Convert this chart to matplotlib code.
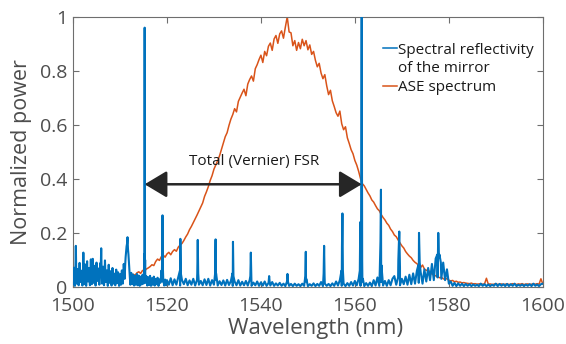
import numpy as np
import matplotlib
matplotlib.use("Agg")
import matplotlib.pyplot as plt
from matplotlib.lines import Line2D

plt.rcParams['font.family'] = ['Open Sans', 'DejaVu Sans']

# ---------------- data ----------------
# Mirror reflectivity: dense noise floor 1500-1520 nm (0.2 nm sampling)
refl_noise_a = [
    0.010, 0.071, 0.004, 0.152, 0.012, 0.066, 0.006, 0.089, 0.018, 0.060,
    0.005, 0.127, 0.010, 0.083, 0.004, 0.095, 0.020, 0.070, 0.006, 0.102,
    0.010, 0.104, 0.015, 0.078, 0.005, 0.090, 0.022, 0.068, 0.008, 0.088,
    0.143, 0.012, 0.075, 0.006, 0.098, 0.018, 0.061, 0.004, 0.082, 0.015,
    0.058, 0.005, 0.070, 0.012, 0.049, 0.006, 0.064, 0.014, 0.054, 0.004,
    0.047, 0.008, 0.061, 0.012, 0.085, 0.030, 0.110, 0.150, 0.184, 0.120,
    0.060, 0.008, 0.052, 0.010, 0.045, 0.005, 0.040, 0.008, 0.048, 0.006,
    0.042, 0.004, 0.038, 0.009, 0.045, 0.012, 0.050, 0.015, 0.040, 0.005,
    0.036, 0.007, 0.041, 0.004, 0.032, 0.008, 0.038, 0.005, 0.030, 0.010,
    0.034, 0.004, 0.028, 0.015, 0.060, 0.020, 0.030, 0.005, 0.027, 0.006,
    0.025,
]
# Mirror reflectivity: interleaved noise samples 1500.1-1519.9 nm
refl_noise_a2 = [
    0.045, 0.030, 0.055, 0.038, 0.060, 0.025, 0.050, 0.042, 0.035, 0.058,
    0.040, 0.052, 0.030, 0.062, 0.045, 0.036, 0.058, 0.028, 0.050, 0.044,
    0.055, 0.032, 0.048, 0.060, 0.038, 0.050, 0.030, 0.056, 0.042, 0.065,
    0.050, 0.035, 0.058, 0.040, 0.045, 0.030, 0.052, 0.038, 0.044, 0.032,
    0.040, 0.028, 0.045, 0.035, 0.030, 0.042, 0.026, 0.038, 0.032, 0.036,
    0.030, 0.040, 0.035, 0.050, 0.060, 0.080, 0.130, 0.160, 0.140, 0.090,
    0.035, 0.028, 0.032, 0.025, 0.030, 0.022, 0.028, 0.030, 0.024, 0.026,
    0.025, 0.022, 0.028, 0.030, 0.026, 0.035, 0.030, 0.025, 0.020, 0.024,
    0.022, 0.026, 0.020, 0.024, 0.018, 0.022, 0.020, 0.016, 0.020, 0.018,
    0.018, 0.016, 0.020, 0.030, 0.035, 0.025, 0.018, 0.016, 0.015, 0.014,
]
# Mirror reflectivity: noise floor 1520.4-1600 nm (0.4 nm sampling)
refl_noise_b = [
    0.008, 0.032, 0.006, 0.028, 0.008, 0.035, 0.005, 0.025, 0.010, 0.030,
    0.006, 0.024, 0.008, 0.030, 0.005, 0.026, 0.008, 0.022, 0.006, 0.028,
    0.007, 0.030, 0.005, 0.025, 0.008, 0.027, 0.005, 0.021, 0.007, 0.024,
    0.005, 0.026, 0.007, 0.022, 0.004, 0.020, 0.006, 0.025, 0.005, 0.019,
    0.006, 0.022, 0.005, 0.025, 0.004, 0.016, 0.006, 0.020, 0.004, 0.017,
    0.005, 0.020, 0.004, 0.014, 0.005, 0.018, 0.004, 0.013, 0.005, 0.015,
    0.004, 0.012, 0.003, 0.014, 0.004, 0.011, 0.003, 0.012, 0.004, 0.010,
    0.003, 0.012, 0.004, 0.020, 0.003, 0.010, 0.004, 0.013, 0.003, 0.011,
    0.004, 0.018, 0.003, 0.012, 0.004, 0.011, 0.003, 0.013, 0.004, 0.020,
    0.005, 0.025, 0.004, 0.012, 0.003, 0.014, 0.004, 0.018, 0.005, 0.022,
    0.006, 0.030, 0.004, 0.020, 0.003, 0.014, 0.004, 0.016, 0.003, 0.025,
    0.005, 0.035, 0.004, 0.018, 0.005, 0.022, 0.004, 0.025, 0.006, 0.030,
    0.040, 0.008, 0.035, 0.006, 0.030, 0.010, 0.038, 0.008, 0.045, 0.010,
    0.050, 0.012, 0.060, 0.015, 0.055, 0.012, 0.065, 0.020, 0.070, 0.025,
    0.085, 0.025, 0.105, 0.035, 0.120, 0.030, 0.090, 0.025, 0.065, 0.012,
    0.020, 0.004, 0.015, 0.003, 0.013, 0.004, 0.012, 0.003, 0.011, 0.004,
    0.010, 0.003, 0.009, 0.004, 0.008, 0.003, 0.012, 0.004, 0.010, 0.003,
    0.009, 0.003, 0.008, 0.004, 0.012, 0.003, 0.011, 0.004, 0.010, 0.003,
    0.011, 0.003, 0.010, 0.004, 0.012, 0.003, 0.008, 0.004, 0.009, 0.003,
    0.009, 0.004, 0.010, 0.003, 0.012, 0.004, 0.009, 0.003, 0.010, 0.012,
]
# Mirror reflectivity comb peaks (with their skirts)
peak_wl = [
    1515.15, 1515.25, 1515.35,
    1518.95, 1519.05, 1519.15,
    1522.75, 1522.85, 1522.95,
    1526.45, 1526.55, 1526.65,
    1530.25, 1530.35, 1530.45,
    1533.95, 1534.05, 1534.15,
    1537.75, 1537.85, 1537.95,
    1541.65, 1541.75, 1541.85,
    1545.55, 1545.65, 1545.75,
    1549.45, 1549.55, 1549.65,
    1553.35, 1553.45, 1553.55,
    1557.15, 1557.25, 1557.35, 1557.45,
    1561.05, 1561.15, 1561.30, 1561.45, 1561.55, 1561.70,
    1565.30, 1565.45, 1565.55, 1565.65,
    1569.25, 1569.45, 1569.60,
    1573.50, 1573.65, 1573.80,
    1577.55, 1577.75, 1577.90, 1578.30,
]
peak_val = [
    0.12, 0.96, 0.10,
    0.08, 0.265, 0.06,
    0.06, 0.178, 0.05,
    0.05, 0.174, 0.05,
    0.05, 0.176, 0.05,
    0.05, 0.167, 0.04,
    0.04, 0.127, 0.04,
    0.02, 0.040, 0.02,
    0.02, 0.048, 0.02,
    0.04, 0.130, 0.03,
    0.05, 0.152, 0.04,
    0.06, 0.15, 0.272, 0.06,
    0.06, 0.24, 0.10, 1.00, 0.10, 0.03,
    0.06, 0.17, 0.36, 0.08,
    0.10, 0.205, 0.07,
    0.08, 0.20, 0.09,
    0.12, 0.20, 0.11, 0.09,
]

# ASE spectrum, 1512.4-1600 nm (0.4 nm sampling)
ase_val = [
    0.040, 0.047, 0.043, 0.052, 0.056, 0.050, 0.061, 0.058, 0.066, 0.070,
    0.075, 0.082, 0.079, 0.094, 0.103, 0.098, 0.112, 0.118, 0.110, 0.122,
    0.128, 0.119, 0.131, 0.138, 0.132, 0.147, 0.155, 0.161, 0.172, 0.185,
    0.196, 0.212, 0.224, 0.238, 0.252, 0.266, 0.281, 0.296, 0.311, 0.335,
    0.352, 0.371, 0.394, 0.412, 0.436, 0.452, 0.468, 0.486, 0.509, 0.532,
    0.556, 0.571, 0.598, 0.621, 0.638, 0.660, 0.648, 0.687, 0.703, 0.718,
    0.732, 0.708, 0.751, 0.768, 0.781, 0.762, 0.808, 0.823, 0.842, 0.858,
    0.831, 0.872, 0.856, 0.891, 0.903, 0.876, 0.918, 0.931, 0.902, 0.937,
    0.948, 0.921, 0.962, 1.000, 0.944, 0.941, 0.893, 0.912, 0.876, 0.905,
    0.882, 0.917, 0.893, 0.912, 0.878, 0.896, 0.861, 0.872, 0.839, 0.815,
    0.828, 0.792, 0.771, 0.786, 0.745, 0.712, 0.728, 0.689, 0.668, 0.645,
    0.632, 0.651, 0.604, 0.582, 0.593, 0.552, 0.531, 0.508, 0.493, 0.468,
    0.451, 0.428, 0.401, 0.382, 0.374, 0.361, 0.348, 0.337, 0.322, 0.314,
    0.301, 0.289, 0.282, 0.268, 0.257, 0.248, 0.236, 0.228, 0.214, 0.205,
    0.192, 0.186, 0.174, 0.163, 0.152, 0.144, 0.131, 0.122, 0.114, 0.108,
    0.098, 0.091, 0.086, 0.079, 0.072, 0.081, 0.066, 0.061, 0.064, 0.052,
    0.048, 0.044, 0.041, 0.037, 0.034, 0.036, 0.030, 0.028, 0.031, 0.025,
    0.022, 0.024, 0.019, 0.021, 0.017, 0.018, 0.015, 0.016, 0.014, 0.013,
    0.012, 0.014, 0.011, 0.012, 0.010, 0.011, 0.012, 0.010, 0.011, 0.032,
    0.010, 0.011, 0.009, 0.010, 0.012, 0.009, 0.010, 0.011, 0.009, 0.010,
    0.011, 0.009, 0.010, 0.012, 0.010, 0.009, 0.011, 0.010, 0.012, 0.009,
    0.010, 0.011, 0.009, 0.010, 0.011, 0.010, 0.012, 0.010, 0.030, 0.011,
]

fsr_start = 1515.25
fsr_end = 1561.45
fsr_level = 0.38

x_ticks = [1500, 1520, 1540, 1560, 1580, 1600]
y_ticks = [0, 0.2, 0.4, 0.6, 0.8, 1]
y_tick_labels = ['0', '0.2', '0.4', '0.6', '0.8', '1']

# ---------------- build series ----------------
wl_a = np.linspace(1500.0, 1520.0, len(refl_noise_a))
wl_a2 = np.linspace(1500.1, 1519.9, len(refl_noise_a2))
wl_b = np.linspace(1520.4, 1600.0, len(refl_noise_b))
refl_wl = np.concatenate([wl_a, wl_a2, wl_b, np.array(peak_wl)])
refl_v = np.concatenate([refl_noise_a, refl_noise_a2, refl_noise_b, peak_val])
order = np.argsort(refl_wl, kind='stable')
refl_wl = refl_wl[order]
refl_v = refl_v[order]

ase_wl = np.linspace(1512.4, 1600.0, len(ase_val))

# ---------------- plot ----------------
BLUE = '#0072BD'
ORANGE = '#D95319'
TXT = '#4D4D4D'
SPINE = '#6E6E6E'

fig = plt.figure(figsize=(5.66, 3.44), dpi=100)
ax = fig.add_axes([0.129, 0.166, 0.830, 0.785])

l_ase, = ax.plot(ase_wl, ase_val, color=ORANGE, lw=1.1, zorder=2)
l_ref, = ax.plot(refl_wl, refl_v, color=BLUE, lw=1.5, zorder=3)

ax.set_xlim(1500, 1600)
ax.set_ylim(0, 1)
ax.set_xticks(x_ticks)
ax.set_yticks(y_ticks)
ax.set_yticklabels(y_tick_labels)

for s in ax.spines.values():
    s.set_color(SPINE)
    s.set_linewidth(0.8)
ax.tick_params(direction='in', top=True, right=True, length=4, width=0.8,
               color=SPINE, labelcolor=TXT, labelsize=14)
ax.tick_params(axis='x', pad=7)
ax.tick_params(axis='y', pad=4)

ax.set_xlabel('Wavelength (nm)', fontsize=16, color=TXT)
ax.xaxis.set_label_coords(0.517, -0.115)
ax.set_ylabel('Normalized power', fontsize=15.5, color=TXT)
ax.yaxis.set_label_coords(-0.087, 0.5)

# FSR double arrow
ax.annotate('', xy=(fsr_start, fsr_level), xytext=(fsr_end, fsr_level),
            arrowprops=dict(arrowstyle='<|-|>,head_length=1.25,head_width=0.75',
                            mutation_scale=11, color='#262626', lw=1.8,
                            shrinkA=0, shrinkB=0), zorder=5)
ax.text((fsr_start + fsr_end) / 2 + 0.1, fsr_level + 0.055, 'Total (Vernier) FSR',
        fontsize=11, color='#1A1A1A', ha='center', va='bottom', zorder=5)

# legend (blue handle aligned with first text line)
blank = Line2D([], [], alpha=0)
leg = ax.legend([l_ref, blank, l_ase],
                ['Spectral reflectivity', 'of the mirror', 'ASE spectrum'],
                loc='upper left', bbox_to_anchor=(0.66, 0.905), frameon=False,
                fontsize=11, handlelength=0.9, handletextpad=0.05,
                borderpad=0, borderaxespad=0, labelspacing=0.25)
for t in leg.get_texts():
    t.set_color('#1A1A1A')
for h in leg.legend_handles:
    h.set_linewidth(1.1)

fig.savefig('out.png', dpi=100)
